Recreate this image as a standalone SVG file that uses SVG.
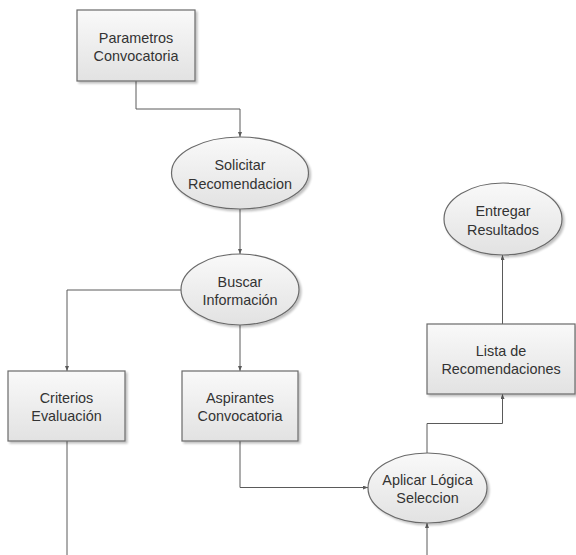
<svg xmlns="http://www.w3.org/2000/svg" width="576" height="555" viewBox="0 0 576 555">
<defs>
<linearGradient id="g" x1="0" y1="0" x2="0" y2="1">
<stop offset="0" stop-color="#f9f9f9"/>
<stop offset="1" stop-color="#e2e2e2"/>
</linearGradient>
<filter id="sh" x="-10%" y="-10%" width="130%" height="130%">
<feGaussianBlur in="SourceAlpha" stdDeviation="1.2"/>
<feOffset dx="1.5" dy="1.5" result="b"/>
<feComponentTransfer><feFuncA type="linear" slope="0.25"/></feComponentTransfer>
<feMerge><feMergeNode/><feMergeNode in="SourceGraphic"/></feMerge>
</filter>
<marker id="ah" markerWidth="5" markerHeight="4" refX="5" refY="2" orient="auto" markerUnits="userSpaceOnUse">
<path d="M0,0 L5,2 L0,4 z" fill="#5a5a5a"/>
</marker>
</defs>
<style>
.n{fill:url(#g);stroke:#6a6a6a;stroke-width:1.2;filter:url(#sh)}
.t{font-family:"Liberation Sans",Arial,sans-serif;font-size:14.4px;fill:#333;text-anchor:middle}
.c{fill:none;stroke:#5a5a5a;stroke-width:1}
.a{marker-end:url(#ah)}
</style>
<rect width="576" height="555" fill="#fff"/>
<g id="connectors">
<path class="c a" d="M136 81 V109 H240 V137"/>
<path class="c a" d="M240 209 V254"/>
<path class="c a" d="M181 290 H67 V371"/>
<path class="c a" d="M240 325 V371"/>
<path class="c a" d="M240 441 V487.5 H368"/>
<path class="c" d="M67 441 V555"/>
<path class="c a" d="M427 555 V523"/>
<path class="c a" d="M427 453 V423.5 H502.5 V394"/>
<path class="c a" d="M502.5 324 V255"/>
</g>
<g id="parametros">
<rect class="n" x="77" y="10" width="118" height="71"/>
<text class="t" x="136" y="42.5">Parametros</text>
<text class="t" x="136" y="60.5">Convocatoria</text>
</g>
<g id="solicitar">
<ellipse class="n" cx="240" cy="173" rx="68.5" ry="36"/>
<text class="t" x="240" y="170">Solicitar</text>
<text class="t" x="240" y="188.5">Recomendacion</text>
</g>
<g id="buscar">
<ellipse class="n" cx="240" cy="289.5" rx="59" ry="35.5"/>
<text class="t" x="240" y="286.5">Buscar</text>
<text class="t" x="240" y="305">Información</text>
</g>
<g id="criterios">
<rect class="n" x="8" y="371" width="117" height="70"/>
<text class="t" x="66.5" y="402.5">Criterios</text>
<text class="t" x="66.5" y="420.5">Evaluación</text>
</g>
<g id="aspirantes">
<rect class="n" x="182" y="371" width="116" height="70"/>
<text class="t" x="240" y="402.5">Aspirantes</text>
<text class="t" x="240" y="420.5">Convocatoria</text>
</g>
<g id="lista">
<rect class="n" x="427" y="324" width="148" height="70"/>
<text class="t" x="501" y="355.5">Lista de</text>
<text class="t" x="501" y="373.5">Recomendaciones</text>
</g>
<g id="entregar">
<ellipse class="n" cx="503" cy="219" rx="59" ry="36"/>
<text class="t" x="503" y="216">Entregar</text>
<text class="t" x="503" y="234.5">Resultados</text>
</g>
<g id="aplicar">
<ellipse class="n" cx="427.5" cy="488" rx="59.5" ry="35"/>
<text class="t" x="427.5" y="484.5">Aplicar Lógica</text>
<text class="t" x="427.5" y="503">Seleccion</text>
</g>
</svg>
